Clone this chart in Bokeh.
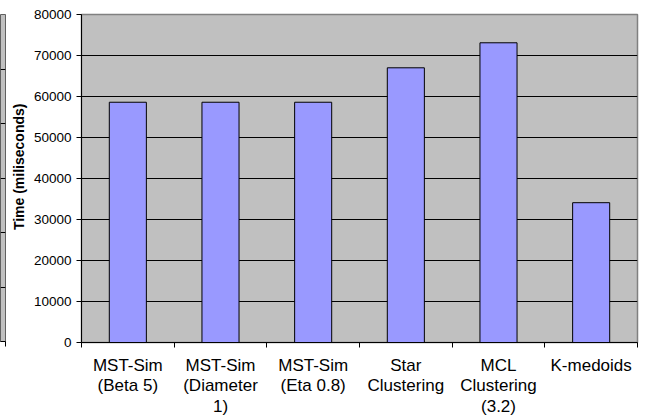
from bokeh.plotting import figure
from bokeh.layouts import row
from bokeh.models import ColumnDataSource, FixedTicker, Range1d, Label
from bokeh.embed import file_html
from bokeh.resources import INLINE

# Run time of each clustering method
methods = [
    "MST-Sim\n(Beta 5)",
    "MST-Sim\n(Diameter\n1)",
    "MST-Sim\n(Eta 0.8)",
    "Star\nClustering",
    "MCL\nClustering\n(3.2)",
    "K-medoids",
]
times_ms = [58600, 58600, 58600, 67000, 73100, 34100]
y_ticks = [0, 10000, 20000, 30000, 40000, 50000, 60000, 70000, 80000]
y_title = "Time (miliseconds)"

FONT = "Liberation Sans"
BG = "#C0C0C0"
BAR = "#9999FF"

centers = [i + 0.5 for i in range(len(methods))]
bounds = [float(i) for i in range(len(methods) + 1)]
src = ColumnDataSource(dict(x=centers, time=times_ms, name=methods))

p = figure(
    frame_width=556, frame_height=328,
    x_range=Range1d(0, len(methods)), y_range=Range1d(0, 80000),
    output_backend="svg", toolbar_location=None,
    min_border_left=75, min_border_right=10,
    min_border_top=14, min_border_bottom=70,
)
p.background_fill_color = BG
p.border_fill_color = "white"
p.outline_line_color = "#808080"
p.outline_line_width = 1.5

p.vbar(x="x", top="time", width=0.4, source=src,
       fill_color=BAR, line_color="black", line_width=1)

p.xgrid.visible = False
p.ygrid.grid_line_color = "black"
p.ygrid.grid_line_width = 1
p.ygrid.ticker = FixedTicker(ticks=y_ticks)

# y axis; the padding nudges the title a little above the axis middle
p.yaxis.ticker = FixedTicker(ticks=y_ticks)
p.yaxis.axis_label = "\u00a0" * 6 + y_title
p.yaxis.axis_label_text_font = FONT
p.yaxis.axis_label_text_font_style = "bold"
p.yaxis.axis_label_text_font_size = "14px"
p.yaxis.axis_label_text_color = "black"
p.yaxis.axis_label_standoff = 4
p.yaxis.major_label_text_font = FONT
p.yaxis.major_label_text_font_size = "13.5px"
p.yaxis.major_label_text_color = "black"
p.yaxis.major_label_standoff = 5
p.yaxis.major_tick_out = 5
p.yaxis.major_tick_in = 0
p.yaxis.minor_tick_line_color = None
p.yaxis.axis_line_color = "black"
p.yaxis.major_tick_line_color = "black"

# x axis: labels at bar centres, tick marks between categories
p.xaxis.ticker = FixedTicker(ticks=centers, minor_ticks=bounds)
p.xaxis.major_label_overrides = {c: m for c, m in zip(centers, methods)}
p.xaxis.major_label_text_font = FONT
p.xaxis.major_label_text_font_size = "17px"
p.xaxis.major_label_text_line_height = 1.1
p.xaxis.major_label_text_color = "black"
p.xaxis.major_label_text_align = "center"
p.xaxis.major_label_standoff = 8
p.xaxis.major_tick_out = 0
p.xaxis.major_tick_in = 0
p.xaxis.major_tick_line_color = None
p.xaxis.minor_tick_out = 5
p.xaxis.minor_tick_in = 0
p.xaxis.minor_tick_line_color = "black"
p.xaxis.axis_line_color = "black"

# edge of the neighbouring chart on the left
s = figure(
    width=6, height=418,
    x_range=Range1d(0, 1), y_range=Range1d(0, 6),
    output_backend="svg", toolbar_location=None,
    min_border_left=0, min_border_right=1,
    min_border_top=14, min_border_bottom=77,
    y_axis_location=None,
)
s.background_fill_color = BG
s.border_fill_color = "white"
s.outline_line_color = "#606060"
s.xgrid.visible = False
s.ygrid.grid_line_color = "black"
s.ygrid.ticker = FixedTicker(ticks=[1, 2, 3, 4, 5])
s.xaxis.ticker = FixedTicker(ticks=[], minor_ticks=[1])
s.xaxis.minor_tick_out = 5
s.xaxis.minor_tick_in = 0
s.xaxis.minor_tick_line_color = "black"
s.xaxis.axis_line_color = "black"
s.add_layout(Label(x=0.6, y=-0.4, text="5", text_align="right",
                   text_baseline="middle", text_font=FONT,
                   text_font_size="17px", text_color="black"))

layout = row(s, p, spacing=0)
open("out.html", "w").write(file_html(layout, INLINE))
